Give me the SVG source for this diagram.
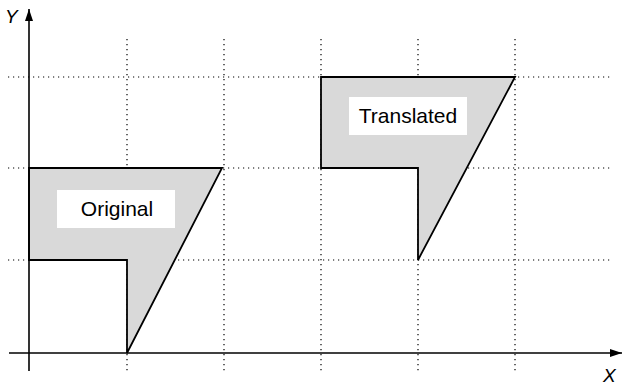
<svg xmlns="http://www.w3.org/2000/svg" width="623" height="387" viewBox="0 0 623 387">
<defs>
<style>
.grid{stroke:#000;stroke-width:1.2;stroke-dasharray:1.2 3.8;fill:none}
.axis{stroke:#000;stroke-width:1.6;fill:none}
.shape{fill:#d9d9d9;stroke:#000;stroke-width:1.8;stroke-linejoin:miter}
.lblbox{fill:#fff}
.lbl{font-family:"Liberation Sans",Arial,sans-serif;font-size:21px;fill:#000;text-anchor:middle}
.ax{font-family:"Liberation Sans",Arial,sans-serif;font-size:19px;font-style:italic;fill:#000}
</style>
<marker id="arr" viewBox="0 0 12 8" refX="12" refY="4" markerWidth="12" markerHeight="8" markerUnits="userSpaceOnUse" orient="auto">
<path d="M0,0 L12,4 L0,8 Z" fill="#000"/>
</marker>
</defs>
<rect width="623" height="387" fill="#fff"/>
<g id="grid">
<line class="grid" x1="8" y1="77" x2="610" y2="77"/>
<line class="grid" x1="8" y1="168" x2="610" y2="168"/>
<line class="grid" x1="8" y1="260" x2="610" y2="260"/>
<line class="grid" x1="127" y1="39" x2="127" y2="372"/>
<line class="grid" x1="224" y1="39" x2="224" y2="372"/>
<line class="grid" x1="321" y1="39" x2="321" y2="372"/>
<line class="grid" x1="418" y1="39" x2="418" y2="372"/>
<line class="grid" x1="515" y1="39" x2="515" y2="372"/>
</g>
<g id="original">
<polygon class="shape" points="29,168 222,168 127,353 127,260 29,260"/>
<rect class="lblbox" x="57" y="190" width="118" height="38"/>
<text class="lbl" x="117" y="216">Original</text>
</g>
<g id="translated">
<polygon class="shape" points="321,77 515,77 418,260 418,168 321,168"/>
<rect class="lblbox" x="349" y="97" width="118" height="38"/>
<text class="lbl" x="408" y="123">Translated</text>
</g>
<g id="axes">
<line class="axis" x1="29" y1="371" x2="29" y2="9" marker-end="url(#arr)"/>
<line class="axis" x1="9" y1="353" x2="622" y2="353" marker-end="url(#arr)"/>
<text class="ax" x="5" y="23">Y</text>
<text class="ax" x="603" y="382">X</text>
</g>
</svg>
